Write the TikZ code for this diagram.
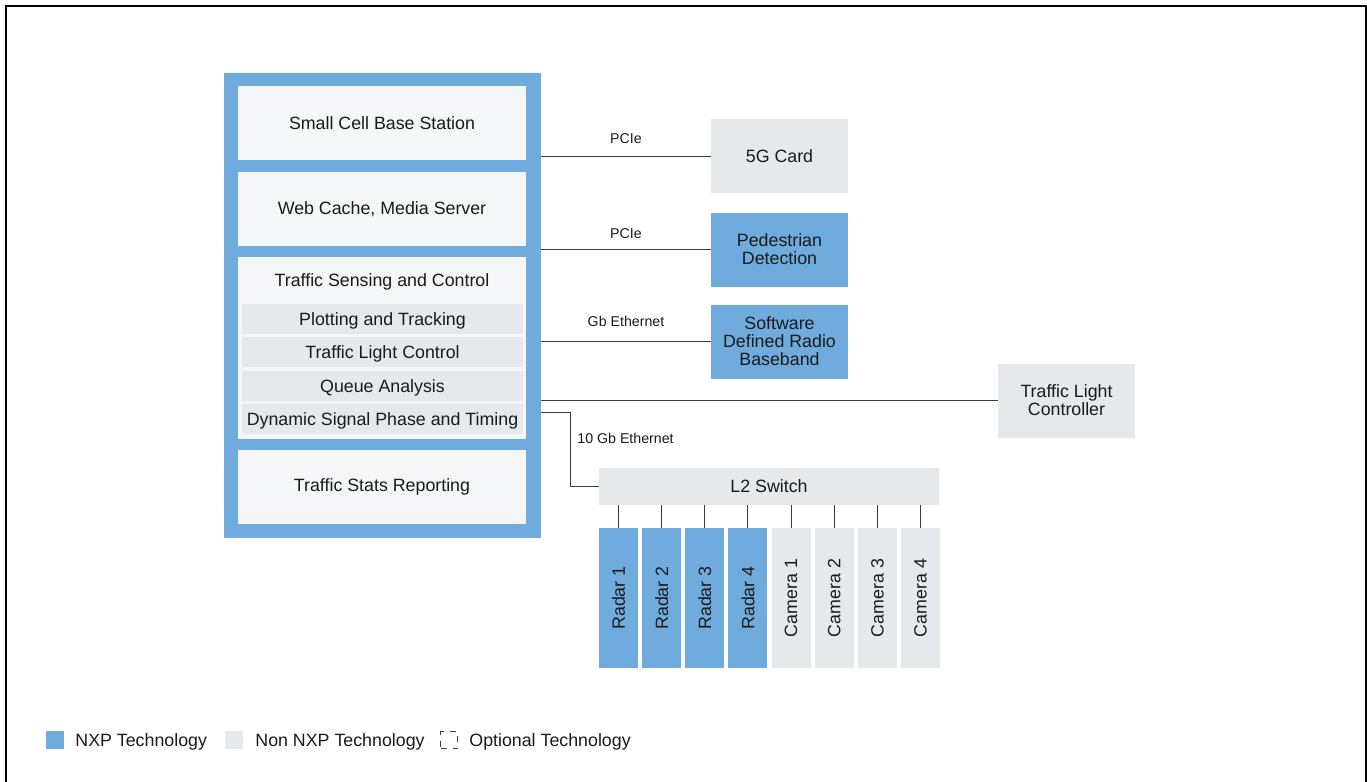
\documentclass[tikz,border=0pt]{standalone}
\usepackage{fontspec}
\setmainfont{Liberation Sans}
\usepackage{tikz}
\usetikzlibrary{positioning}

\definecolor{nxpblue}{HTML}{6FACDD}
\definecolor{nonnxp}{HTML}{E5E9EC}
\definecolor{inner}{HTML}{F5F6F8}
\definecolor{wire}{HTML}{3C3C3C}
\definecolor{ink}{HTML}{1A1A1A}

\begin{document}
\begin{tikzpicture}[x=0.5pt,y=-0.5pt,
    box/.style={rectangle,inner sep=0pt,align=center,text=ink,
        font=\fontsize{8.9}{9}\selectfont},
    nxp/.style={box,fill=nxpblue},
    other/.style={box,fill=nonnxp},
    sub/.style={box,fill=inner,minimum width=144pt,minimum height=37pt},
    row/.style={box,fill=nonnxp,minimum width=140.5pt,minimum height=15pt,
        text height=6.6pt,text depth=0.6pt},
    ext/.style={minimum width=68.5pt,minimum height=37pt},
    cam/.style={minimum width=19.5pt,minimum height=70pt},
    link/.style={draw=wire,line width=0.5pt},
    lbl/.style={text=ink,inner sep=0pt,font=\fontsize{7.1}{8}\selectfont}]
\useasboundingbox (0,0) rectangle (1367,782);
\draw[line width=1pt] (6,782) -- (6,6) -- (1366,6) -- (1366,782);

% processor
\node[nxp,minimum width=158.5pt,minimum height=232.5pt] (frame) at (382.5,305.5) {};
\node[sub] (cell) at (382,123) {Small Cell Base Station};
\node[sub] (cache) at (382,209) {Web Cache, Media Server};
\node[sub,minimum height=91pt] (sensing) at (382,348) {};
\node[box] at (382,282) {Traffic Sensing and Control};
\node[row] (plot) at (382.5,319) {Plotting and Tracking};
\node[row] (light) at (382.5,352) {Traffic Light Control};
\node[row] (queue) at (382.5,386) {Queue Analysis};
\node[row] (dsp) at (382.5,419) {Dynamic Signal Phase and Timing};
\node[sub] (stats) at (382,487) {Traffic Stats Reporting};

% external
\node[other,ext] (card) at (779.5,156) {5G Card};
\node[nxp,ext] (ped) at (779.5,249.5) {Pedestrian\\Detection};
\node[nxp,ext] (sdr) at (779.5,341.5) {Software\\Defined Radio\\Baseband};
\node[other,ext] (tlc) at (1066.5,400.5) {Traffic Light\\Controller};
\node[other,minimum width=170pt,minimum height=18.5pt] (switch) at (769,486.5) {L2 Switch};

\path[link] (frame.east |- card) -- node[lbl,above=6pt] {PCIe} (card.west);
\path[link] (frame.east |- ped) -- node[lbl,above=5pt] {PCIe} (ped.west);
\path[link] (frame.east |- sdr) -- node[lbl,above=7pt] {Gb Ethernet} (sdr.west);
\path[link] (frame.east |- tlc) -- (tlc.west);

\coordinate (eth) at (541,412);
\draw[link] (eth) -- ++(29,0) |- (switch.west);
\node[lbl,anchor=west] at (577,438) {10 Gb Ethernet};

% sensors
\foreach \i/\name in {0/Radar 1,1/Radar 2,2/Radar 3,3/Radar 4}
{
    \node[nxp,cam] (s_\i) at (618.5+43.15*\i,598) {\rotatebox{90}{\name}};
    \draw[link] (s_\i.north) -- (s_\i.north |- switch.south);
}
\foreach \i/\name in {4/Camera 1,5/Camera 2,6/Camera 3,7/Camera 4}
{
    \node[other,cam] (s_\i) at (618.5+43.15*\i,598) {\rotatebox{90}{\name}};
    \draw[link] (s_\i.north) -- (s_\i.north |- switch.south);
}

% legend
\node[nxp,minimum size=9pt] (key_nxp) at (55,740) {};
\node[box,anchor=west] at (75,742) {NXP Technology};
\node[other,minimum size=9pt] (key_other) at (234,740) {};
\node[box,anchor=west] at (255,742) {Non NXP Technology};
\node[box,draw=wire,dashed,line width=0.4pt,minimum size=8.5pt] (key_opt) at (449,740) {};
\node[box,anchor=west] at (469,742) {Optional Technology};
\end{tikzpicture}
\end{document}
